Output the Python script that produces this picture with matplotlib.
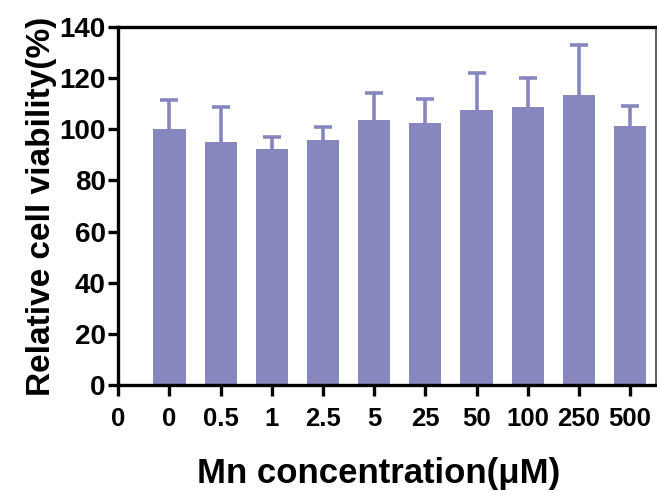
import numpy as np
import matplotlib
matplotlib.use('Agg')
import matplotlib.pyplot as plt

plt.rcParams['font.family'] = ['Liberation Sans', 'DejaVu Sans']
plt.rcParams['font.weight'] = 'bold'

# data
concentrations = ['0', '0.5', '1', '2.5', '5', '25', '50', '100', '250', '500']
viability = [100.1, 95.2, 92.3, 95.8, 103.6, 102.3, 107.5, 108.6, 113.3, 101.3]
err_top = [111.5, 108.6, 96.9, 100.9, 114.3, 111.8, 121.9, 120.1, 133.0, 109.2]
y_ticks = [0, 20, 40, 60, 80, 100, 120, 140]

bar_color = '#8787c0'

fig = plt.figure(figsize=(6.57, 4.92), dpi=100)
ax = fig.add_axes([0.18, 0.2175, 0.818, 0.7275])

x = np.arange(1, len(concentrations) + 1)
sd = np.array(err_top) - np.array(viability)
ax.bar(x, viability, width=0.63, color=bar_color, zorder=2)
eb = ax.errorbar(x, viability, yerr=[np.zeros_like(sd), sd], fmt='none',
                 ecolor=bar_color, elinewidth=2.6, capsize=6.5, capthick=2.6, zorder=1)
# only the upper cap is wanted
eb[1][0].set_visible(False)

ax.set_xlim(0, 10.5)
ax.set_ylim(0, 140)
ax.set_yticks(y_ticks)
ax.set_xticks(np.arange(0, len(concentrations) + 1))
ax.set_xticklabels(['0'] + concentrations)

for side in ['left', 'bottom', 'top']:
    ax.spines[side].set_linewidth(2.4)
    ax.spines[side].set_color('black')
ax.spines['right'].set_linewidth(1.2)
ax.spines['right'].set_color('#444444')

ax.tick_params(axis='both', which='major', width=2.4, direction='out')
ax.tick_params(axis='x', labelsize=18.5, length=8, pad=8)
ax.tick_params(axis='y', labelsize=20, length=7, pad=2)

ax.set_ylabel('Relative cell viability(%)', fontsize=24, fontweight='bold', labelpad=2)
ax.set_xlabel('Mn concentration(\u03bcM)', fontsize=25, fontweight='bold', labelpad=20)
ax.xaxis.set_label_coords(0.485, -0.2)

fig.savefig('out.png', dpi=100)
